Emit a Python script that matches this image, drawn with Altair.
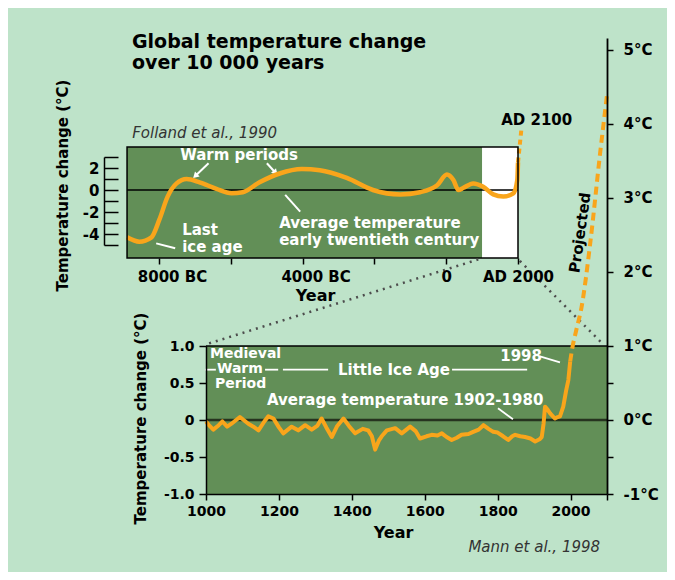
import altair as alt
import pandas as pd

# ---------------- data ----------------
# Upper panel (Folland et al., 1990): years (negative = BC), temperature change (°C)
up_years = [-8890, -8550, -8210, -7990, -7760, -7510, -7230, -6870, -6400, -5980, -5670,
            -5200, -4640, -4020, -3520, -2770, -2040, -1280, -730, -260, 20, 200, 340,
            480, 750, 1030, 1310, 1590, 1870, 1980, 2000]
up_temps = [-4.3, -4.7, -4.3, -2.7, -0.6, 0.6, 1.0, 0.7, 0.1, -0.3, -0.2,
            0.7, 1.5, 1.9, 1.8, 1.1, 0.0, -0.4, -0.2, 0.4, 1.4, 0.9, 0.0,
            0.2, 0.6, 0.3, -0.4, -0.6, -0.3, 0.9, 2.5]
up_proj_years = [2000, 2100]
up_proj_temps = [2.5, 5.7]

# Lower panel (Mann et al., 1998)
low_years = [1000, 1010, 1020, 1035, 1045, 1058, 1070, 1093, 1116, 1130, 1144, 1160, 1171,
             1185, 1200, 1212, 1235, 1253, 1272, 1290, 1305, 1317, 1330, 1345, 1360, 1377,
             1392, 1409, 1430, 1445, 1455, 1464, 1474, 1482, 1496, 1519, 1537, 1560, 1575,
             1587, 1605, 1619, 1635, 1647, 1660, 1674, 1688, 1701, 1720, 1733, 1748, 1761,
             1775, 1788, 1800, 1815, 1829, 1840, 1848, 1862, 1875, 1890, 1903, 1915, 1921,
             1926, 1930, 1937, 1944, 1957, 1965, 1971, 1980, 1988, 1994, 1999]
low_temps = [-0.02, -0.08, -0.13, -0.07, -0.02, -0.09, -0.05, 0.04, -0.05, -0.09, -0.14, -0.02, 0.05,
             0.02, -0.10, -0.18, -0.09, -0.14, -0.07, -0.13, -0.08, 0.02, -0.10, -0.23, -0.08, 0.02,
             -0.08, -0.18, -0.12, -0.14, -0.22, -0.40, -0.28, -0.22, -0.14, -0.11, -0.18, -0.09, -0.15,
             -0.25, -0.22, -0.20, -0.21, -0.18, -0.23, -0.27, -0.24, -0.20, -0.19, -0.16, -0.13, -0.07,
             -0.12, -0.16, -0.17, -0.22, -0.27, -0.22, -0.20, -0.22, -0.23, -0.25, -0.29, -0.26, -0.23,
             -0.05, 0.18, 0.14, 0.09, 0.02, 0.04, 0.05, 0.18, 0.40, 0.54, 0.79]
proj_years = [1999, 2004, 2015, 2030, 2054, 2081, 2100]
proj_temps = [0.79, 0.95, 1.20, 1.52, 2.39, 3.60, 4.39]

# tick values
up_x_ticks = [-8000, -6000, -4000, -2000, 0, 2000]
up_y_ticks = [-5, -4, -3, -2, -1, 0, 1, 2, 3]
low_x_ticks = [1000, 1200, 1400, 1600, 1800, 2000, 2100]
low_y_ticks = [-1, -0.5, 0, 0.5, 1]
right_ticks = [-1, -0.5, 0, 0.5, 1, 2, 3, 4, 5]

# annotations (upper panel units)
up_labels = ["Warm periods", "Last", "ice age", "Average temperature", "early twentieth century"]
up_label_x = [-7410, -7354, -7354, -4652, -4652]
up_label_y = [3.18, -3.6, -5.15, -3.0, -4.55]

# annotations (lower panel units)
mwp_labels = ["Medieval", "Warm", "Period"]
mwp_x = [1011, 1030, 1025]
mwp_y = [0.89, 0.685, 0.48]
low_labels = ["Little Ice Age", "Average temperature 1902-1980", "1998"]
low_label_x = [1362, 1167, 1807]
low_label_y = [0.68, 0.27, 0.86]

# ---------------- style ----------------
FONT = "DejaVu Sans"
BG = "#BEE3C9"
GREEN = "#628F57"
ORANGE = "#F9A51B"
W, H = 659, 564

UP_START, UP_END = -8890, 2000
UP_MIN, UP_MAX = -6.18, 3.91


def ux():
    return alt.Scale(domain=[-8000, 2000], range=[151, 510])


def uy():
    return alt.Scale(domain=[-5, 3], range=[237, 149])


def lx():
    return alt.Scale(domain=[1000, 2100], range=[198, 599])


def ly():
    return alt.Scale(domain=[-1, 1], range=[486, 338])


def ry():
    return alt.Scale(domain=[-1, 5.162], range=[486, 30])


def X(xs, field="x"):
    return alt.X(f"{field}:Q", scale=xs(), axis=None)


def Y(ys, field="y"):
    return alt.Y(f"{field}:Q", scale=ys(), axis=None)


def rules(df, xs, ys, **kw):
    return alt.Chart(df).mark_rule(**kw).encode(x=X(xs), x2="x2:Q", y=Y(ys), y2="y2:Q")


def texts(labels, xv, yv, xs, ys, **kw):
    df = pd.DataFrame({"t": labels, "x": xv, "y": yv})
    return alt.Chart(df).mark_text(font=FONT, **kw).encode(x=X(xs), y=Y(ys), text="t:N")


# ---------------- upper panel ----------------
up_bg = alt.Chart(pd.DataFrame({
    "x": [UP_START, 1000], "x2": [1000, UP_END],
    "y": [UP_MIN, UP_MIN], "y2": [UP_MAX, UP_MAX], "c": [GREEN, "white"]
})).mark_rect().encode(x=X(ux), x2="x2:Q", y=Y(uy), y2="y2:Q", color=alt.Color("c:N", scale=None))

up_zero = rules(pd.DataFrame({"x": [UP_START], "x2": [UP_END], "y": [0], "y2": [0]}), ux, uy,
                color="black", strokeWidth=1.5)

up_line = alt.Chart(pd.DataFrame({"year": up_years, "temp": up_temps})).mark_line(
    color=ORANGE, strokeWidth=4.5, interpolate="monotone"
).encode(x=X(ux, "year"), y=Y(uy, "temp"))

up_proj = alt.Chart(pd.DataFrame({"year": up_proj_years, "temp": up_proj_temps})).mark_line(
    color=ORANGE, strokeWidth=4, strokeDash=[5, 4]
).encode(x=X(ux, "year"), y=Y(uy, "temp"))

up_x_axis = alt.Axis(
    orient="bottom", offset=-314, values=up_x_ticks, domain=False, tickSize=6, tickWidth=1.5,
    labelExpr="datum.value == -8000 ? '8000 BC' : datum.value == -4000 ? '4000 BC' : "
              "datum.value == 0 ? '0' : datum.value == 2000 ? 'AD 2000' : ''",
    labelOffset={"condition": {"test": "datum.value < 0", "value": 13}, "value": 0},
    labelFlush=False, labelOverlap=False,
    labelPadding=5, labelFontSize=15, title="Year", titleFontSize=16, zindex=2,
    titleX=307, titleY=37, titleAlign="center", titleBaseline="middle",
)
up_y_axis = alt.Axis(
    orient="right", offset=-563, values=up_y_ticks, tickSize=14, tickWidth=1.5, domainWidth=1.5,
    labelExpr="datum.value % 2 == 0 ? (datum.value < 0 ? '-' : '') + abs(datum.value) : ''",
    labelFlush=False, labelOverlap=False,
    labelAlign="right", labelPadding=-19, labelFontSize=15, labelBaseline="middle", zindex=2,
    title="Temperature change (°C)", titleFontSize=15, titleAngle=270,
    titleX=-42, titleY=177, titleAlign="center", titleBaseline="middle",
)
up_frame = alt.Chart(pd.DataFrame({
    "x": [UP_START], "x2": [UP_END], "y": [UP_MIN], "y2": [UP_MAX]
})).mark_rect(fillOpacity=0, stroke="black", strokeWidth=1.5).encode(
    x=alt.X("x:Q", scale=ux(), axis=up_x_axis), x2="x2:Q",
    y=alt.Y("y:Q", scale=uy(), axis=up_y_axis), y2="y2:Q")

up_ptr = rules(pd.DataFrame({
    "x": [-6620, -4995, -8078, -4485], "x2": [-6990, -4755, -7549, -4067],
    "y": [2.43, 2.43, -4.85, -0.45], "y2": [1.27, 1.57, -5.3, -1.97]
}), ux, uy, color="white", strokeWidth=2)

up_heads = alt.Chart(pd.DataFrame({"x": [-6990, -4755], "y": [1.27, 1.57], "a": [226, 138]})).mark_point(
    shape="triangle-up", filled=True, size=45, color="white", opacity=1
).encode(x=X(ux), y=Y(uy), angle=alt.Angle("a:Q", scale=None))

up_text = texts(up_labels, up_label_x, up_label_y, ux, uy, align="left", baseline="middle",
                color="white", fontWeight="bold", fontSize=15)
folland = texts(["Folland et al., 1990"], [-8747], [5.18], ux, uy, align="left", baseline="middle",
                color="#333333", fontStyle="italic", fontSize=15)
ad2100 = texts(["AD 2100"], [1532], [6.36], ux, uy, align="left", baseline="middle",
               color="black", fontWeight="bold", fontSize=15)

# ---------------- lower panel ----------------
low_x_axis = alt.Axis(
    orient="bottom", offset=-78, values=low_x_ticks, tickSize=6, tickWidth=1.5, domainWidth=1.5,
    labelExpr="datum.value == 2100 ? '' : '' + datum.value", labelPadding=4, labelFontSize=14,
    labelFlush=False, labelOverlap=False,
    title="Year", titleFontSize=16, titleX=385, titleY=38, titleAlign="center",
    titleBaseline="middle", zindex=2,
)
low_y_axis = alt.Axis(
    orient="left", offset=-198, values=low_y_ticks, tickSize=7, tickWidth=1.5, domainWidth=1.5,
    labelExpr="datum.value == 0 ? '0' : (datum.value < 0 ? '-' : '') + format(abs(datum.value), '.1f')",
    labelFlush=False, labelOverlap=False,
    labelPadding=5, labelFontSize=14, zindex=2,
    title="Temperature change (°C)", titleFontSize=15, titleAngle=270,
    titleX=-66, titleY=410, titleAlign="center", titleBaseline="middle",
)
low_bg = alt.Chart(pd.DataFrame({"x": [1000], "x2": [2100], "y": [-1], "y2": [1]})).mark_rect(
    color=GREEN
).encode(x=alt.X("x:Q", scale=lx(), axis=low_x_axis), x2="x2:Q",
         y=alt.Y("y:Q", scale=ly(), axis=low_y_axis), y2="y2:Q")

low_zero = rules(pd.DataFrame({"x": [1000], "x2": [2100], "y": [0], "y2": [0]}), lx, ly,
                 color="#26331f", strokeWidth=2.5)
low_top = rules(pd.DataFrame({"x": [1000], "x2": [2100], "y": [1], "y2": [1]}), lx, ly,
                color="black", strokeWidth=1.5)

low_ann = rules(pd.DataFrame({
    "x": [997, 1162, 1211, 1675, 1801, 1916],
    "x2": [1027, 1198, 1335, 1881, 1842, 1971],
    "y": [0.68, 0.68, 0.68, 0.68, 0.16, 0.86],
    "y2": [0.68, 0.68, 0.68, 0.68, 0.01, 0.78],
}), lx, ly, color="white", strokeWidth=1.8)

mwp_text = texts(mwp_labels, mwp_x, mwp_y, lx, ly, align="left", baseline="middle",
                 color="white", fontWeight="bold", fontSize=14)
low_text = texts(low_labels, low_label_x, low_label_y, lx, ly, align="left", baseline="middle",
                 color="white", fontWeight="bold", fontSize=15)

low_line = alt.Chart(pd.DataFrame({"year": low_years, "temp": low_temps})).mark_line(
    color=ORANGE, strokeWidth=4, strokeJoin="round"
).encode(x=X(lx, "year"), y=Y(ly, "temp"))

proj_line = alt.Chart(pd.DataFrame({"year": proj_years, "temp": proj_temps})).mark_line(
    color=ORANGE, strokeWidth=4, strokeDash=[8, 5], interpolate="monotone"
).encode(x=X(lx, "year"), y=Y(ly, "temp"))

connectors = rules(pd.DataFrame({
    "x": [1747, 1861], "x2": [1005, 2086], "y": [2.17, 2.15], "y2": [1.03, 1.04]
}), lx, ly, color="#4d4d4d", strokeWidth=2.5, strokeDash=[2, 5])

projected = texts(["Projected"], [2026], [2.53], lx, ly, align="center", baseline="middle",
                  angle=278, color="black", fontWeight="bold", fontSize=15)
mann = texts(["Mann et al., 1998"], [2081], [-1.72], lx, ly, align="right", baseline="middle",
             color="#333333", fontStyle="italic", fontSize=15)

# ---------------- right-hand °C axis ----------------
right_axis = alt.Axis(
    orient="right", offset=-60, values=right_ticks, tickSize=6, tickWidth=1.5, domainWidth=1.8,
    labelExpr="datum.value % 1 == 0 ? (datum.value < 0 ? '-' : '') + abs(datum.value) + '°C' : ''",
    labelFlush=False, labelOverlap=False,
    labelPadding=10, labelFontSize=15, title="", zindex=2,
)
right = alt.Chart(pd.DataFrame({"v": [-1, 5]})).mark_point(opacity=0).encode(
    y=alt.Y("v:Q", scale=ry(), axis=right_axis))

chart = alt.layer(
    up_bg, up_zero, up_ptr, up_heads, up_text, up_line, up_proj, up_frame, folland, ad2100,
    low_bg, low_zero, low_top, low_ann, mwp_text, low_text, connectors, low_line, proj_line,
    projected, mann, right,
).resolve_scale(
    x="independent", y="independent"
).properties(
    width=W, height=H, padding=0, background=BG,
    autosize=alt.AutoSizeParams(type="none"),
    title=alt.TitleParams(
        text=["Global temperature change", "over 10 000 years"], anchor="start", frame="group",
        orient="top", offset=0, dx=124, dy=65, baseline="top", font=FONT, fontSize=19,
        fontWeight="bold", color="black", lineHeight=21,
    ),
).configure_view(stroke="transparent").configure_axis(
    labelFont=FONT, titleFont=FONT, labelColor="black", titleColor="black",
    domainColor="black", tickColor="black", grid=False,
    labelFontWeight="bold", titleFontWeight="bold",
)

chart.save("out.html", embed_options={"renderer": "svg", "actions": False})
